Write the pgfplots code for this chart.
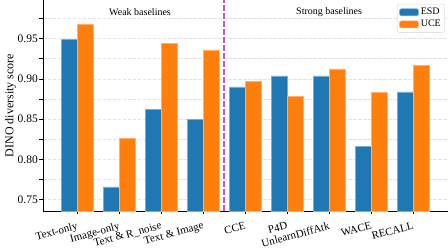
\documentclass[border=0pt]{standalone}
\usepackage{pgfplots}
\pgfplotsset{compat=1.18}
\usepackage{fontspec}
\setmainfont{Liberation Serif}
\definecolor{tabblue}{HTML}{1F77B4}
\definecolor{taborange}{HTML}{FF7F0E}
\definecolor{divline}{HTML}{BF5BC9}
\begin{document}
\begin{tikzpicture}
\begin{axis}[
  at={(0pt,0pt)}, anchor=south west,
  scale only axis, width=405pt, height=211pt,
  xmin=-0.81, xmax=8.83, ymin=0.736, ymax=0.998,
  axis x line*=bottom, axis y line*=left,
  axis line style={line width=0.8pt},
  xtick={0,...,8},
  xticklabels={Text-only,Image-only,Text \& R\_noise,Text \& Image,CCE,P4D,UnlearnDiffAtk,WACE,RECALL},
  xticklabel style={rotate=15, anchor=north east, font=\fontsize{11}{12}\selectfont, inner sep=1pt, yshift=-5.5pt, xshift=-1.5pt},
  ytick={0.75,0.80,0.85,0.90,0.95},
  minor ytick={0.775,0.825,0.875,0.925,0.975},
  yticklabel style={font=\fontsize{11.5}{13}\selectfont, inner sep=1.5pt, /pgf/number format/fixed, /pgf/number format/fixed zerofill, /pgf/number format/precision=2, /pgf/number format/assume math mode=true},
  ylabel={DINO diversity score},
  ylabel style={font=\fontsize{12}{13}\selectfont, inner sep=0pt, xshift=0pt},
  tick align=outside, major tick length=3.5pt, minor tick length=3.5pt,
  tick style={line width=0.6pt, black},
  ymajorgrids, yminorgrids,
  major grid style={dash pattern=on 3.5pt off 1.5pt, gray!22, line width=0.6pt},
  minor grid style={dash pattern=on 3.5pt off 1.5pt, gray!22, line width=0.6pt},
  legend style={at={(0.9926,0.981)}, anchor=north east, font=\fontsize{10}{11}\selectfont, draw=gray!35, rounded corners=2pt, row sep=0pt, inner sep=2pt},
  legend cell align=left,
  legend image code/.code={\draw[#1] (0pt,-3.5pt) rectangle (19pt,3.5pt);},
  clip=false,
]
\addplot[ybar, bar width=0.38, bar shift=-0.19, fill=tabblue, draw=tabblue!60!white, line width=0.6pt] coordinates {
(0,0.949) (1,0.766) (2,0.8625) (3,0.8495) (4,0.890) (5,0.9037) (6,0.9037) (7,0.816) (8,0.884)};
\addlegendentry{ESD}
\addplot[ybar, bar width=0.38, bar shift=0.19, fill=taborange, draw=taborange!60!white, line width=0.6pt] coordinates {
(0,0.968) (1,0.8266) (2,0.9438) (3,0.936) (4,0.8966) (5,0.878) (6,0.9125) (7,0.883) (8,0.917)};
\addlegendentry{UCE}
\draw[divline, dash pattern=on 5.5pt off 2.5pt, line width=1.2pt] (axis cs:3.5,0.736) -- (axis cs:3.5,0.998);
\node[font=\fontsize{10}{11}\selectfont] at (axis cs:1.5,0.983) {Weak baselines};
\node[font=\fontsize{10}{11}\selectfont] at (axis cs:6,0.983) {Strong baselines};
\end{axis}
\pgfresetboundingbox
\path[use as bounding box] (-43pt,-41pt) rectangle (405pt,211pt);
\end{tikzpicture}
\end{document}
